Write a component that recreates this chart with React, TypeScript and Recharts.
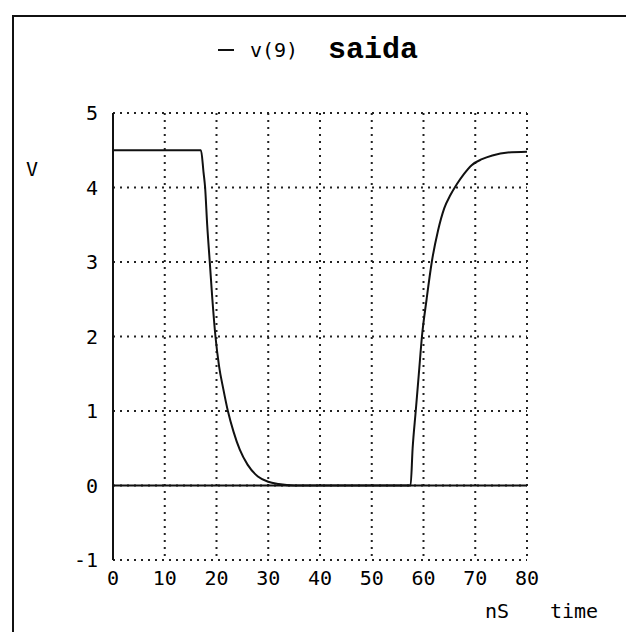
import React from "react";
import {
  LineChart,
  Line,
  XAxis,
  YAxis,
  CartesianGrid,
  ReferenceLine,
} from "recharts";

// time in nS
const times = [
  0, 17, 17.5, 17.8, 18.2, 18.7, 19.2, 19.8, 20.5, 21.3, 22.2, 23.3, 24.5, 26,
  28, 30, 32, 35, 40, 50, 57.5, 57.9, 58.5, 59.1, 59.7, 60.6, 61.6, 62.8, 64.0,
  65.2, 66.4, 67.8, 69.3, 71.3, 73.3, 76.3, 80,
];
// v(9) saida in V
const volts = [
  4.5, 4.5, 4.2, 4.0, 3.5, 3.0, 2.5, 2.0, 1.6, 1.3, 1.0, 0.72, 0.48, 0.28, 0.12,
  0.05, 0.02, 0.0, 0, 0, 0, 0.5, 1.0, 1.5, 2.0, 2.5, 3.0, 3.42, 3.72, 3.9, 4.04,
  4.18, 4.3, 4.38, 4.43, 4.47, 4.48,
];
const xTicks = [0, 10, 20, 30, 40, 50, 60, 70, 80];
const yTicks = [-1, 0, 1, 2, 3, 4, 5];

const data = times.map((t, i) => ({ t, v: volts[i] }));

const mono = "'DejaVu Sans Mono', monospace";

export default function App() {
  const textStyle: React.CSSProperties = {
    position: "absolute",
    fontFamily: mono,
    fontSize: 20,
    color: "#000",
    lineHeight: 1,
    whiteSpace: "nowrap",
  };

  return (
    <div
      style={{
        position: "absolute",
        left: 0,
        top: 0,
        width: 626,
        height: 632,
        background: "#fff",
        overflow: "hidden",
      }}
    >
      {/* frame */}
      <div
        style={{
          position: "absolute",
          left: 12,
          top: 15,
          width: 640,
          height: 640,
          borderTop: "2px solid #111",
          borderLeft: "2px solid #111",
        }}
      />

      <LineChart
        width={626}
        height={632}
        data={data}
        margin={{ top: 113, right: 99, left: 0, bottom: 0 }}
      >
        <CartesianGrid
          stroke="#222"
          strokeWidth={2}
          strokeDasharray="2 5"
          horizontalValues={yTicks}
          verticalValues={xTicks}
        />
        <XAxis
          type="number"
          dataKey="t"
          domain={[0, 80]}
          ticks={xTicks}
          axisLine={false}
          tickLine={false}
          height={72}
          tickSize={6}
          tickMargin={5}
          tick={{ fontFamily: mono, fontSize: 20, fill: "#000" }}
        />
        <YAxis
          type="number"
          domain={[-1, 5]}
          ticks={yTicks}
          width={113}
          axisLine={{ stroke: "#111", strokeWidth: 2 }}
          tickLine={false}
          tickSize={6}
          tickMargin={9}
          tick={{ fontFamily: mono, fontSize: 20, fill: "#000" }}
        />
        <ReferenceLine y={0} stroke="#111" strokeWidth={2} />
        <Line
          type="monotone"
          dataKey="v"
          stroke="#111"
          strokeWidth={2}
          dot={false}
          isAnimationActive={false}
        />
      </LineChart>

      {/* title */}
      <div
        style={{
          position: "absolute",
          left: 218,
          top: 49,
          width: 16,
          height: 2,
          background: "#111",
        }}
      />
      <div style={{ ...textStyle, left: 250, top: 40 }}>v(9)</div>
      <div
        style={{
          ...textStyle,
          left: 328,
          top: 35,
          fontFamily: "'Liberation Mono', monospace",
          fontWeight: "bold",
          fontSize: 30,
        }}
      >
        saida
      </div>

      <div style={{ ...textStyle, left: 26, top: 159 }}>V</div>
      <div style={{ ...textStyle, left: 485, top: 601 }}>nS</div>
      <div style={{ ...textStyle, left: 550, top: 601 }}>time</div>
    </div>
  );
}
